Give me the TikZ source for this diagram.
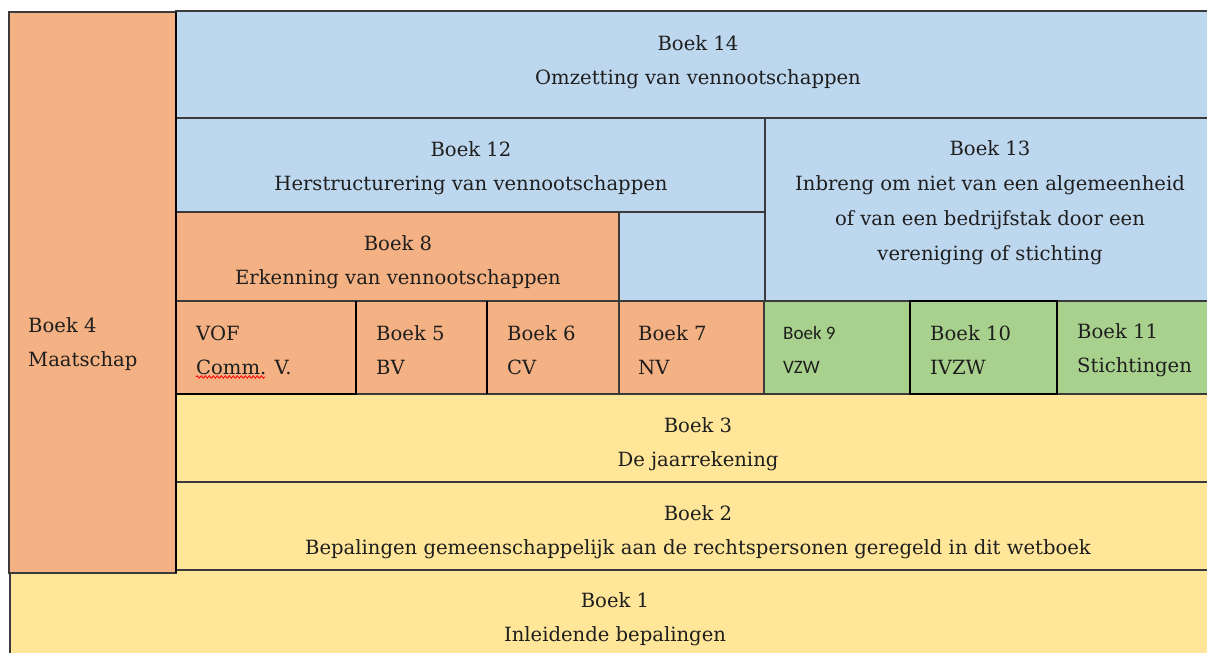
\documentclass[tikz,border=0pt]{standalone}
\usepackage{fontspec}
\setmainfont{DejaVu Serif}
\newfontfamily\smallsans{Carlito}
\usetikzlibrary{decorations.pathmorphing}
\definecolor{orangec}{HTML}{F4B183}
\definecolor{bluec}{HTML}{BDD7EE}
\definecolor{greenc}{HTML}{A9D18E}
\definecolor{yellowc}{HTML}{FFE699}
\definecolor{linec}{HTML}{3A3A3A}
\definecolor{textc}{HTML}{1E1E1E}
\begin{document}
\begin{tikzpicture}[x=1pt,y=-1pt,
  cell/.style={draw=linec, line width=1.1pt},
  thick cell/.style={draw=black, line width=1.8pt},
  lbl/.style={font=\fontsize{19.6}{34}\selectfont, text=textc, align=center, inner sep=0pt},
  lbll/.style={lbl, align=left, anchor=west},
  lbls/.style={lbll, font=\smallsans\fontsize{19}{34}\selectfont}]
\useasboundingbox (0,0) rectangle (1207,653);
\fill[white] (0,0) rectangle (1207,653);
\clip (0,0) rectangle (1207,653);
% yellow rows
\path[cell, fill=yellowc] (10,570) rectangle (1215,665);
\path[cell, fill=yellowc] (176,482) rectangle (1215,570);
\path[cell, fill=yellowc] (176,394) rectangle (1215,482);
% blue blocks
\path[cell, fill=bluec] (176,11) rectangle (1215,118);
\path[cell, fill=bluec] (176,118) rectangle (766,212);
\path[cell, fill=bluec] (765,118) rectangle (1215,301);
\path[cell, fill=bluec] (619,212) rectangle (765,301);
% orange blocks
\path[cell, fill=orangec] (176,212) rectangle (619,301);
\path[cell, fill=orangec] (176,301) rectangle (356,394);
\path[cell, fill=orangec] (356,301) rectangle (487,394);
\path[cell, fill=orangec] (487,301) rectangle (619,394);
\path[cell, fill=orangec] (619,301) rectangle (764,394);
% green blocks
\path[cell, fill=greenc] (764,301) rectangle (910,394);
\path[cell, fill=greenc] (910,301) rectangle (1057,394);
\path[cell, fill=greenc] (1057,301) rectangle (1215,394);
% thicker strokes
\draw[thick cell] (176,394) -- (356,394) -- (356,301);
\draw[thick cell] (487,301) -- (487,394);
\draw[thick cell] (910,301) rectangle (1057,394);
% Boek 4
\path[cell, fill=orangec] (9,12) rectangle (176,573);
\draw[thick cell] (176,12) -- (176,573);

% labels
\node[lbl] (b14) at (698,62) {Boek 14\\Omzetting van vennootschappen};
\node[lbl] (b12) at (471,168) {Boek 12\\Herstructurering van vennootschappen};
\node[lbl, font=\fontsize{19.6}{35}\selectfont] (b13) at (990,203) {Boek 13\\Inbreng om niet van een algemeenheid\\of van een bedrijfstak door een\\vereniging of stichting};
\node[lbl] (b8) at (398,262) {Boek 8\\Erkenning van vennootschappen};
\node[lbll] (b4) at (28,344) {Boek 4\\Maatschap};
\node[lbll] (vof) at (196,350) {VOF\\Comm. V.};
\node[lbll] (b5) at (376,350) {Boek 5\\BV};
\node[lbll] (b6) at (507,350) {Boek 6\\CV};
\node[lbll] (b7) at (638,350) {Boek 7\\NV};
\node[lbls] (b9) at (783,350) {Boek 9\\VZW};
\node[lbll] (b10) at (930,350) {Boek 10\\IVZW};
\node[lbll] (b11) at (1077,350) {Boek 11\\Stichtingen};
\node[lbl] (b3) at (698,444) {Boek 3\\De jaarrekening};
\node[lbl] (b2) at (698,532) {Boek 2\\Bepalingen gemeenschappelijk aan de rechtspersonen geregeld in dit wetboek};
\node[lbl] (b1) at (615,619) {Boek 1\\Inleidende bepalingen};
% spell-check squiggle
\coordinate (sqa) at (196,377);
\coordinate (sqb) at (265,377);
\draw[red, line width=0.8pt, decorate, decoration={snake, amplitude=1.2pt, segment length=4pt}] (sqa) -- (sqb);
\end{tikzpicture}
\end{document}
